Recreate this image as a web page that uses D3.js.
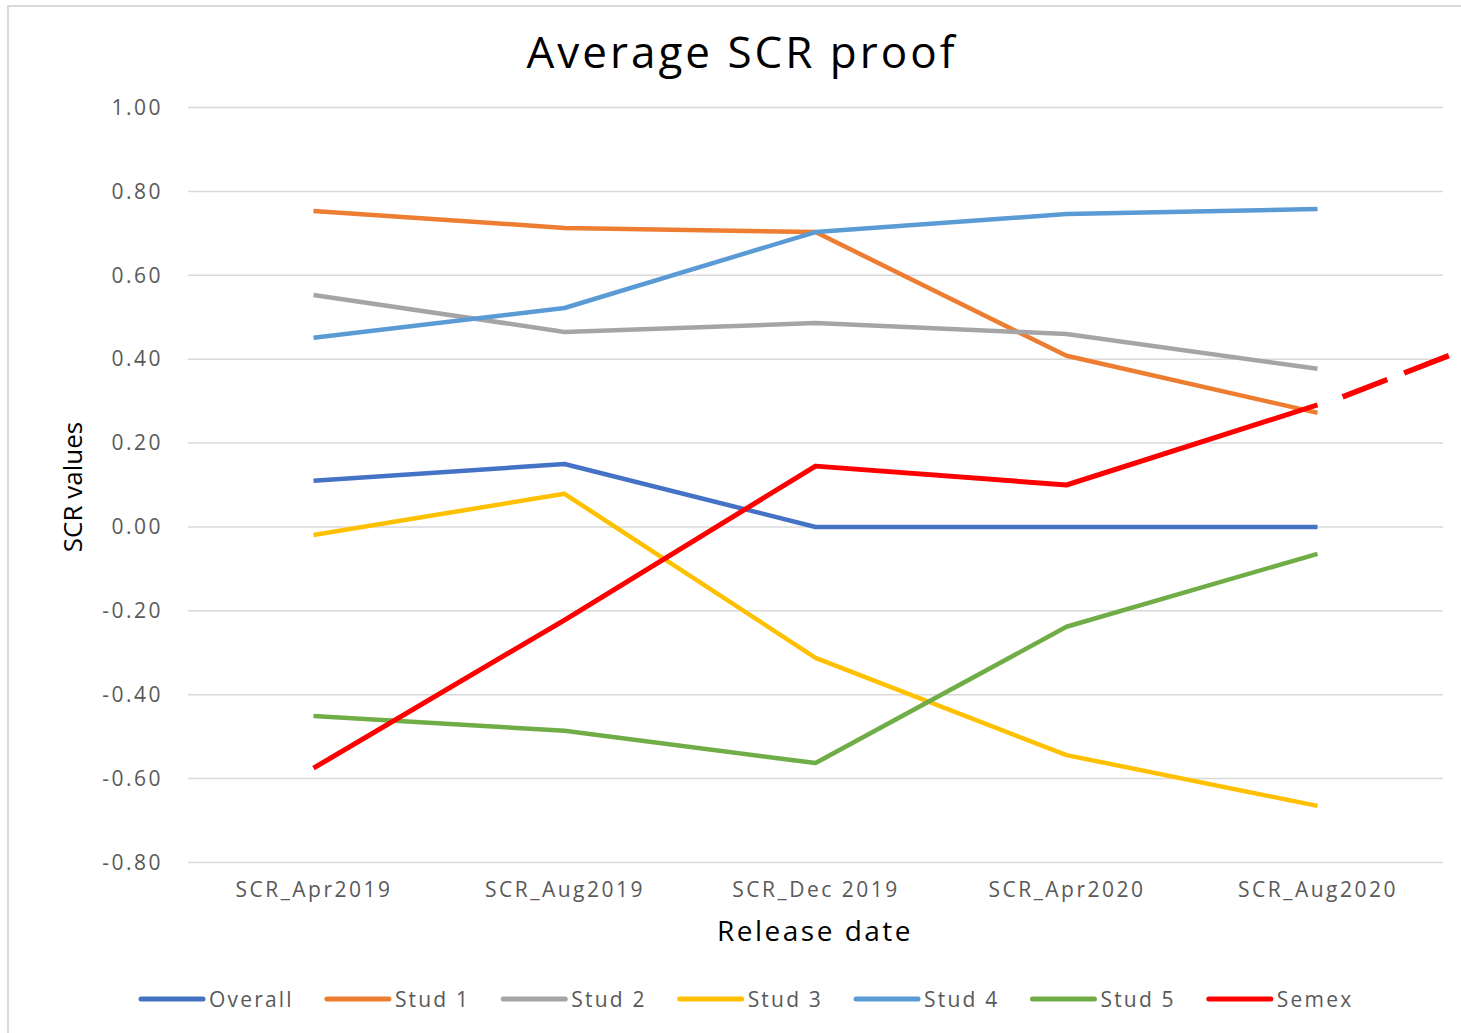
<!DOCTYPE html>
<html>
<head>
<meta charset="utf-8">
<script src="https://cdn.jsdelivr.net/npm/d3@7"></script>
<style>
    body { margin: 0; background: #fff; }
    text { font-family: "Open Sans", sans-serif; }
</style>
</head>
<body>
<div id="chart"></div>
<script>
// Chart data
var releases = ["SCR_Apr2019", "SCR_Aug2019", "SCR_Dec 2019", "SCR_Apr2020", "SCR_Aug2020"];
var seriesNames = ["Overall", "Stud 1", "Stud 2", "Stud 3", "Stud 4", "Stud 5", "Semex"];
var overall = [0.11, 0.15, 0.00, 0.00, 0.00];
var stud1 = [0.753, 0.713, 0.703, 0.408, 0.272];
var stud2 = [0.553, 0.465, 0.486, 0.460, 0.377];
var stud3 = [-0.019, 0.079, -0.312, -0.544, -0.665];
var stud4 = [0.451, 0.522, 0.703, 0.746, 0.758];
var stud5 = [-0.451, -0.486, -0.563, -0.238, -0.064];
var semex = [-0.575, -0.222, 0.145, 0.100, 0.291];
var yTicks = [-0.8, -0.6, -0.4, -0.2, 0, 0.2, 0.4, 0.6, 0.8, 1.0];
// hand-drawn dashed projection after the last release (position in release index, value)
var projIndex = [4.10, 4.53];
var projValue = [0.31, 0.41];

var colors = ["#4472C4", "#ED7D31", "#A5A5A5", "#FFC000", "#5B9BD5", "#70AD47", "#FF0000"];
var allValues = [overall, stud1, stud2, stud3, stud4, stud5, semex];

var width = 1461, height = 1033;
var margin = {top: 107.5, left: 188, right: 18, bottom: 170.5};

var svg = d3.select("#chart").append("svg")
    .attr("width", width)
    .attr("height", height);

// outer chart frame
svg.append("rect")
    .attr("x", 8).attr("y", 6)
    .attr("width", 1480).attr("height", 1060)
    .attr("fill", "none")
    .attr("stroke", "#d9d9d9")
    .attr("stroke-width", 2);

var x = d3.scalePoint()
    .domain(releases)
    .range([margin.left, width - margin.right])
    .padding(0.5);

var xIndex = d3.scaleLinear()
    .domain([0, releases.length - 1])
    .range([x(releases[0]), x(releases[releases.length - 1])]);

var y = d3.scaleLinear()
    .domain([-0.8, 1.0])
    .range([height - margin.bottom, margin.top]);

// Excel style labels use a plain hyphen for the minus sign
var fmt = function(d) { return d3.format(".2f")(d).replace("\u2212", "-"); };

// gridlines
svg.append("g")
    .selectAll("line")
    .data(yTicks)
    .enter()
    .append("line")
        .attr("x1", margin.left)
        .attr("x2", width - margin.right)
        .attr("y1", function(d) { return y(d); })
        .attr("y2", function(d) { return y(d); })
        .attr("stroke", "#d9d9d9")
        .attr("stroke-width", 1.5);

// y axis labels
var yAxis = svg.append("g")
    .attr("transform", "translate(" + margin.left + ",0)")
    .call(d3.axisLeft(y).tickValues(yTicks).tickFormat(fmt).tickSize(0).tickPadding(25));
yAxis.select(".domain").remove();
yAxis.selectAll("text")
    .attr("font-size", "21px")
    .attr("font-family", "Open Sans")
    .attr("letter-spacing", "2.5px")
    .attr("fill", "#595959");

// x axis labels
var xAxis = svg.append("g")
    .attr("transform", "translate(0," + (height - margin.bottom) + ")")
    .call(d3.axisBottom(x).tickSize(0).tickPadding(20));
xAxis.select(".domain").remove();
xAxis.selectAll("text")
    .attr("font-size", "21px")
    .attr("font-family", "Open Sans")
    .attr("letter-spacing", "2.5px")
    .attr("fill", "#595959");

// series lines
var line = d3.line()
    .x(function(d, i) { return x(releases[i]); })
    .y(function(d) { return y(d); });

svg.append("g")
    .selectAll("path")
    .data(allValues)
    .enter()
    .append("path")
        .attr("d", line)
        .attr("fill", "none")
        .attr("stroke", function(d, i) { return colors[i]; })
        .attr("stroke-width", function(d, i) { return i === 6 ? 5 : 4.5; })
        .attr("stroke-linejoin", "round");

// red dashed projection
var projLine = d3.line()
    .x(function(d) { return xIndex(d); })
    .y(function(d, i) { return y(projValue[i]); });

svg.append("path")
    .attr("d", projLine(projIndex))
    .attr("fill", "none")
    .attr("stroke", "#FF0000")
    .attr("stroke-width", 5.5)
    .attr("stroke-dasharray", "48,18");

// titles
svg.append("text")
    .attr("x", 742)
    .attr("y", 68)
    .attr("text-anchor", "middle")
    .attr("font-size", "44px")
    .attr("letter-spacing", "3px")
    .attr("fill", "#000")
    .text("Average SCR proof");

svg.append("text")
    .attr("x", 815)
    .attr("y", 941)
    .attr("text-anchor", "middle")
    .attr("font-size", "28px")
    .attr("letter-spacing", "2.5px")
    .attr("fill", "#000")
    .text("Release date");

svg.append("text")
    .attr("transform", "translate(82,487) rotate(-90)")
    .attr("text-anchor", "middle")
    .attr("font-size", "26px")
    .attr("fill", "#000")
    .text("SCR values");

// legend
var legend = svg.append("g")
    .attr("transform", "translate(139,999)");

var legendX = 0;
seriesNames.forEach(function(name, i) {
    var item = legend.append("g")
        .attr("transform", "translate(" + legendX + ",0)");
    item.append("line")
        .attr("x1", 2).attr("x2", 64)
        .attr("y1", 0).attr("y2", 0)
        .attr("stroke", colors[i])
        .attr("stroke-width", 5)
        .attr("stroke-linecap", "round");
    var label = item.append("text")
        .attr("x", 70)
        .attr("y", 7.5)
        .attr("font-size", "21px")
        .attr("letter-spacing", "2.2px")
        .attr("fill", "#595959")
        .text(name);
    legendX += 70 + label.node().getComputedTextLength() + 31;
});
</script>
</body>
</html>
